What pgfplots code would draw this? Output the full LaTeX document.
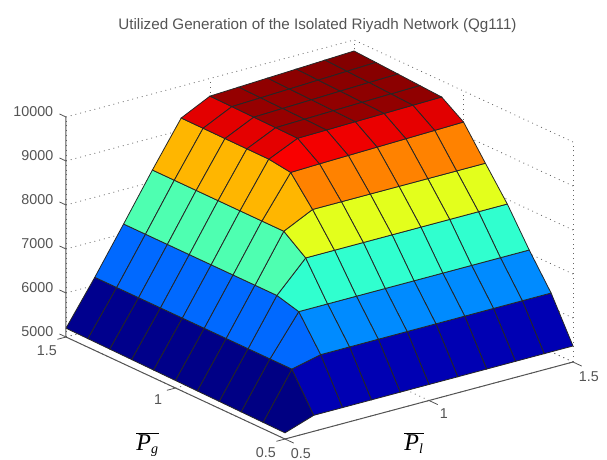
\documentclass[border=0pt]{standalone}
\usepackage{fontspec}
\setmainfont{Liberation Sans}
\newfontfamily\serif{Liberation Serif}
\usepackage{pgfplots}
\pgfplotsset{compat=1.18}
\definecolor{axgray}{gray}{0.33}
\pgfplotsset{colormap={matjet}{rgb255=(0,0,128) rgb255=(0,0,191) rgb255=(0,0,255) rgb255=(0,64,255)
  rgb255=(0,128,255) rgb255=(0,191,255) rgb255=(0,255,255) rgb255=(64,255,191)
  rgb255=(128,255,128) rgb255=(191,255,64) rgb255=(255,255,0) rgb255=(255,170,0)
  rgb255=(255,128,0) rgb255=(255,64,0) rgb255=(255,0,0) rgb255=(170,0,0) rgb255=(120,0,0)}}
\begin{document}
\begin{tikzpicture}[x=1pt,y=1pt]
  \useasboundingbox (0,0) rectangle (607,459);
  \begin{axis}[
      at={(285pt,20pt)}, anchor=origin, clip=false,
      x={(288pt,77pt)}, y={(-219pt,102pt)}, z={(0pt,0.044pt)},
      xmin=0.5, xmax=1.5, ymin=0.5, ymax=1.5, zmin=5000, zmax=10000,
      xtick={0.5,1,1.5}, ytick={0.5,1,1.5}, ztick={5000,6000,7000,8000,9000,10000},
      xticklabels={0.5,1,1.5}, yticklabels={0.5,1,1.5},
      scaled ticks=false,
      /pgf/number format/assume math mode=true,
      /pgf/number format/1000 sep={},
      ticklabel style={font=\fontsize{14.3}{16}\selectfont, text=axgray},
      xticklabel style={xshift=2pt, yshift=-0.5pt},
      yticklabel style={xshift=-3pt, yshift=-0.5pt},
      zticklabel style={xshift=-2pt},
      tick style={draw=none},
      tick align=outside, major tick length=8pt,
      xtick pos=lower, ytick pos=lower, ztick pos=left,
      grid=major,
      grid style={black!60, line width=0.8pt, dash pattern=on 0.9pt off 4pt},
      axis line style={draw=none},
      colormap name=matjet,
      point meta min=5130, point meta max=9760,
    ]
    \addplot3[surf, shader=flat corner, draw=black!85, line width=0.8pt,
        z buffer=sort, mesh/rows=11, mesh/cols=11, point meta=z] coordinates {
(0.5,0.5,5140)(0.6,0.5,5364)(0.7,0.5,5364)(0.8,0.5,5364)(0.9,0.5,5364)(1.0,0.5,5364)(1.1,0.5,5364)(1.2,0.5,5364)(1.3,0.5,5364)(1.4,0.5,5364)(1.5,0.5,5364)

(0.5,0.6,5146)(0.6,0.6,6182)(0.7,0.6,6336)(0.8,0.6,6336)(0.9,0.6,6336)(1.0,0.6,6336)(1.1,0.6,6336)(1.2,0.6,6336)(1.3,0.6,6336)(1.4,0.6,6336)(1.5,0.6,6336)

(0.5,0.7,5152)(0.6,0.7,6182)(0.7,0.7,7082)(0.8,0.7,7082)(0.9,0.7,7082)(1.0,0.7,7082)(1.1,0.7,7082)(1.2,0.7,7082)(1.3,0.7,7082)(1.4,0.7,7082)(1.5,0.7,7082)

(0.5,0.8,5158)(0.6,0.8,6182)(0.7,0.8,7218)(0.8,0.8,7895)(0.9,0.8,7895)(1.0,0.8,7895)(1.1,0.8,7895)(1.2,0.8,7895)(1.3,0.8,7895)(1.4,0.8,7895)(1.5,0.8,7895)

(0.5,0.9,5164)(0.6,0.9,6182)(0.7,0.9,7218)(0.8,0.9,8270)(0.9,0.9,8590)(1.0,0.9,8590)(1.1,0.9,8590)(1.2,0.9,8590)(1.3,0.9,8590)(1.4,0.9,8590)(1.5,0.9,8590)

(0.5,1.0,5170)(0.6,1.0,6182)(0.7,1.0,7218)(0.8,1.0,8270)(0.9,1.0,9200)(1.0,1.0,9220)(1.1,1.0,9235)(1.2,1.0,9250)(1.3,1.0,9265)(1.4,1.0,9280)(1.5,1.0,9295)

(0.5,1.1,5176)(0.6,1.1,6182)(0.7,1.1,7218)(0.8,1.1,8270)(0.9,1.1,9270)(1.0,1.1,9570)(1.1,1.1,9582)(1.2,1.1,9595)(1.3,1.1,9607)(1.4,1.1,9620)(1.5,1.1,9632)

(0.5,1.2,5182)(0.6,1.2,6182)(0.7,1.2,7218)(0.8,1.2,8270)(0.9,1.2,9272)(1.0,1.2,9578)(1.1,1.2,9595)(1.2,1.2,9612)(1.3,1.2,9628)(1.4,1.2,9645)(1.5,1.2,9662)

(0.5,1.3,5188)(0.6,1.3,6182)(0.7,1.3,7218)(0.8,1.3,8270)(0.9,1.3,9274)(1.0,1.3,9585)(1.1,1.3,9607)(1.2,1.3,9629)(1.3,1.3,9651)(1.4,1.3,9673)(1.5,1.3,9692)

(0.5,1.4,5194)(0.6,1.4,6182)(0.7,1.4,7218)(0.8,1.4,8270)(0.9,1.4,9276)(1.0,1.4,9593)(1.1,1.4,9618)(1.2,1.4,9644)(1.3,1.4,9670)(1.4,1.4,9696)(1.5,1.4,9722)

(0.5,1.5,5200)(0.6,1.5,6182)(0.7,1.5,7218)(0.8,1.5,8270)(0.9,1.5,9277)(1.0,1.5,9600)(1.1,1.5,9630)(1.2,1.5,9660)(1.3,1.5,9690)(1.4,1.5,9720)(1.5,1.5,9750)
    };
    % front axis lines, matlab style
    \draw[axgray, line width=1pt] (axis cs:0.5,1.5,10000) -- (axis cs:0.5,1.5,5000)
      -- (axis cs:0.5,0.5,5000) -- (axis cs:1.5,0.5,5000);
    % slanted ticks, along the other floor axis
    \draw[axgray, line width=0.8pt] (axis cs:0.5,1.5,5000) -- (axis cs:0.5,1.53,5000);
    \draw[axgray, line width=0.8pt] (axis cs:0.5,1.5,6000) -- (axis cs:0.5,1.53,6000);
    \draw[axgray, line width=0.8pt] (axis cs:0.5,1.5,7000) -- (axis cs:0.5,1.53,7000);
    \draw[axgray, line width=0.8pt] (axis cs:0.5,1.5,8000) -- (axis cs:0.5,1.53,8000);
    \draw[axgray, line width=0.8pt] (axis cs:0.5,1.5,9000) -- (axis cs:0.5,1.53,9000);
    \draw[axgray, line width=0.8pt] (axis cs:0.5,1.5,10000) -- (axis cs:0.5,1.53,10000);
    \draw[axgray, line width=0.8pt] (axis cs:0.5,0.5,5000) -- (axis cs:0.5,0.46,5000);
    \draw[axgray, line width=0.8pt] (axis cs:1,0.5,5000) -- (axis cs:1,0.46,5000);
    \draw[axgray, line width=0.8pt] (axis cs:1.5,0.5,5000) -- (axis cs:1.5,0.46,5000);
    \draw[axgray, line width=0.8pt] (axis cs:0.5,0.5,5000) -- (axis cs:0.47,0.5,5000);
    \draw[axgray, line width=0.8pt] (axis cs:0.5,1,5000) -- (axis cs:0.47,1,5000);
    \draw[axgray, line width=0.8pt] (axis cs:0.5,1.5,5000) -- (axis cs:0.47,1.5,5000);
  \end{axis}
  \node[text=axgray, font=\fontsize{15.2}{16}\selectfont] at (317.5,433.5)
    {Utilized Generation of the Isolated Riyadh Network (Qg111)};
  \node[anchor=base, font=\fontsize{24}{26}\selectfont] at (147.5,9)
    {$\overline{\hbox{\serif\itshape P}_{\hbox{\fontsize{14}{15}\serif\itshape g}}}$};
  \node[anchor=base, font=\fontsize{24}{26}\selectfont] at (414,9)
    {$\overline{\hbox{\serif\itshape P}_{\hbox{\fontsize{14}{15}\serif\itshape l}}}$};
\end{tikzpicture}
\end{document}
